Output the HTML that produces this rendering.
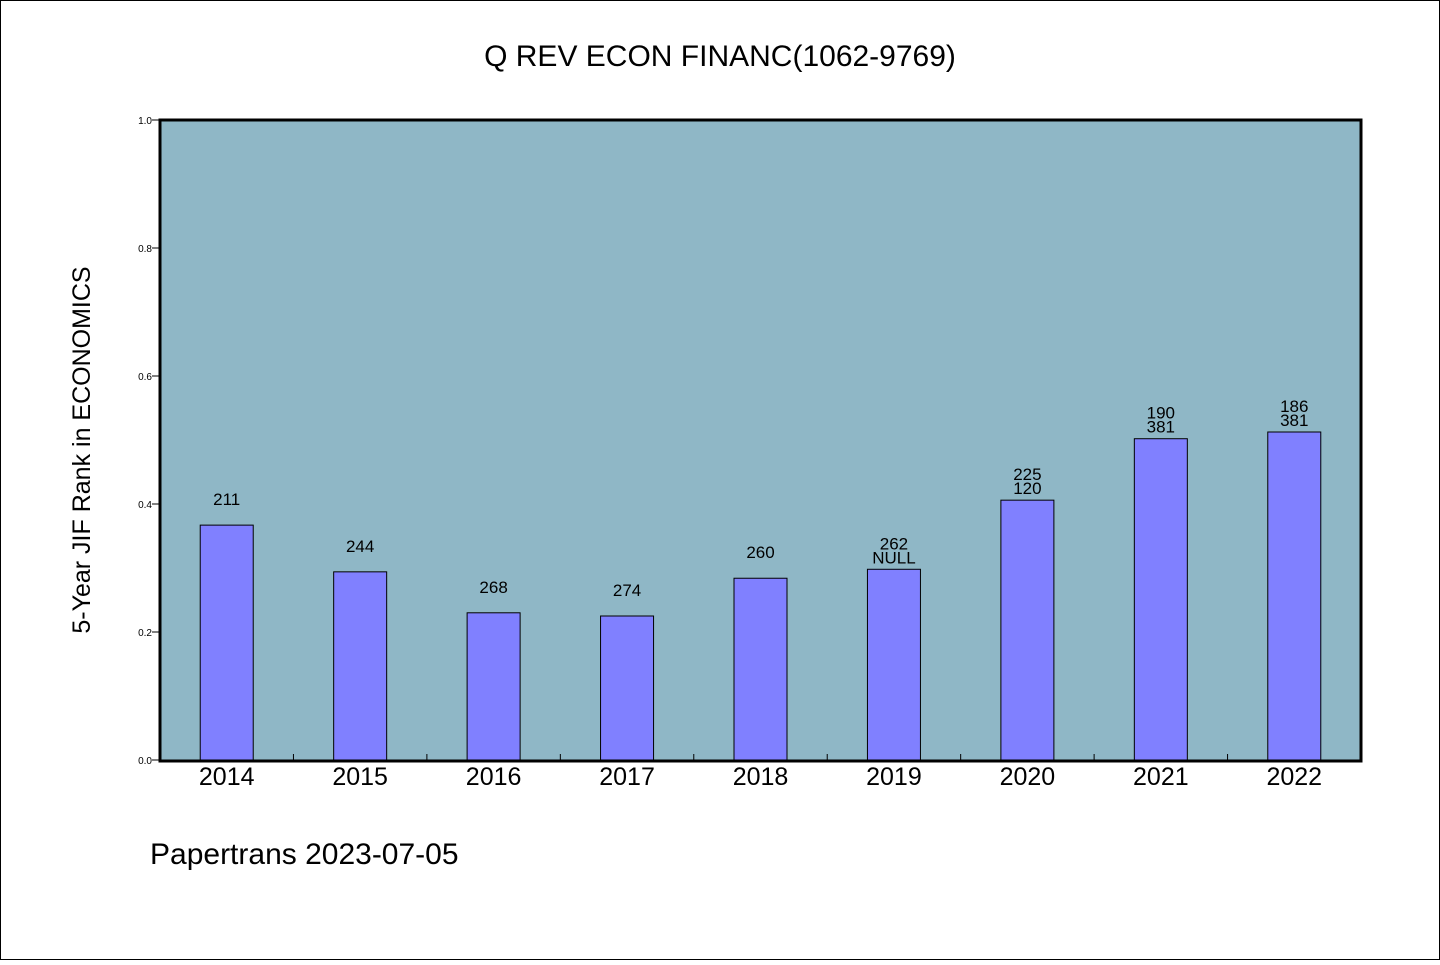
<!DOCTYPE html>
<html><head><meta charset="utf-8"><style>
body{margin:0;background:#fff}
svg text{font-family:"WenQuanYi Zen Hei","Liberation Sans",sans-serif;fill:#000}
</style></head><body>
<svg width="1440" height="960" xmlns="http://www.w3.org/2000/svg">
<rect x="0.5" y="0.5" width="1439" height="959" fill="#fff" stroke="#000"/>
<text x="720" y="66" font-size="30" text-anchor="middle">Q REV ECON FINANC(1062-9769)</text>
<rect x="160" y="120" width="1201" height="641" fill="#8fb7c6"/>
<g id="bars"></g>
<g id="axes"></g>
<rect x="160" y="120" width="1201" height="641" fill="none" stroke="#000" stroke-width="3"/>
<text transform="translate(90,450) rotate(-90)" font-size="25" text-anchor="middle">5-Year JIF Rank in ECONOMICS</text>
<text x="150" y="864" font-size="30">Papertrans 2023-07-05</text>
</svg>
<script>
const categories=["2014","2015","2016","2017","2018","2019","2020","2021","2022"];
const values=[0.367,0.294,0.230,0.225,0.284,0.298,0.406,0.502,0.5125];
const labelTop=["211","244","268","274","260","262","225","190","186"];
const labelBottom=["","","","","","NULL","120","381","381"];
const yTicks=[0,0.2,0.4,0.6,0.8,1.0];
const X0=160,W=1201,Y0=760,H=640;
const step=W/categories.length;
const xc=i=>X0+step*(i+0.5);
const y=v=>Y0-v*H;
const NS="http://www.w3.org/2000/svg";
const bars=document.getElementById('bars'),axes=document.getElementById('axes');
function mk(tag,attrs,parent){const e=document.createElementNS(NS,tag);for(const k in attrs)e.setAttribute(k,attrs[k]);parent.appendChild(e);return e;}
categories.forEach((c,i)=>{
 const r=mk('rect',{x:xc(i)-26.5,y:y(values[i]),width:53,height:Y0-y(values[i]),fill:'#8080ff',stroke:'#000','stroke-width':1},bars);
 
 
 const two=labelBottom[i]!=="";
 const t=mk('text',{x:xc(i),y:y(values[i])-(two?20:20),'font-size':17,'text-anchor':'middle'},bars);
 t.textContent=labelTop[i];
 
 
 if(two){const t2=mk('text',{x:xc(i),y:y(values[i])-6,'font-size':17,'text-anchor':'middle'},bars);
  t2.textContent=labelBottom[i];
  
  }
 const xl=mk('text',{x:xc(i),y:785,'font-size':25,'text-anchor':'middle'},axes);
 xl.textContent=c;
 
 
 if(i>0){const tk=mk('line',{x1:X0+step*i,x2:X0+step*i,y1:Y0,y2:Y0-6,stroke:'#000'},axes);
  
  }
});
yTicks.forEach(v=>{
 const l=mk('line',{x1:X0-8,x2:X0,y1:y(v),y2:y(v),stroke:'#000'},axes);
 
 
 const t=mk('text',{x:X0-8,y:y(v)+4,'font-size':10,'text-anchor':'end'},axes);
 t.textContent=v.toFixed(1);
 
 
});
</script>
</body></html>
